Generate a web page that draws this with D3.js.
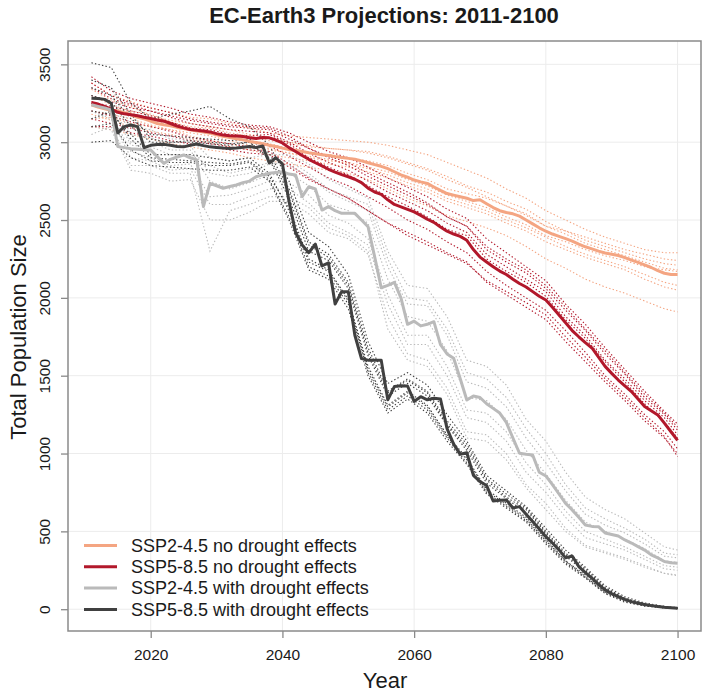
<!DOCTYPE html>
<html><head><meta charset="utf-8">
<script src="https://cdn.jsdelivr.net/npm/d3@7"></script>
<style>body{margin:0;background:#fff}svg{display:block}text{font-family:"Liberation Sans",Arial,sans-serif}</style>
</head><body><svg id="c" width="705" height="692"></svg>
<script>
const years = d3.range(2011, 2101);
const memberYears = [2011,2014,2017,2020,2023,2026,2029,2032,2035,2038,2041,2044,2047,2050,2053,2056,2059,2062,2065,2068,2071,2074,2077,2080,2083,2086,2089,2092,2095,2098,2100];
const xTicks = [2020,2040,2060,2080,2100];
const yTicks = [0,500,1000,1500,2000,2500,3000,3500];
const seriesNames = ["SSP2-4.5 no drought effects","SSP5-8.5 no drought effects","SSP2-4.5 with drought effects","SSP5-8.5 with drought effects"];
const seriesColors = ["#F4A582","#B2182B","#BABABA","#404040"];

const meanSSP245 = [3240,3225,3215,3205,3200,3190,3175,3160,3150,3135,3120,3112,3105,3095,3088,3080,3072,3066,3058,3048,3038,3030,3022,3015,3005,2998,2990,2980,2972,2962,2952,2948,2940,2932,2926,2920,2915,2908,2902,2896,2890,2880,2868,2856,2845,2830,2810,2790,2775,2757,2745,2735,2712,2690,2670,2660,2650,2640,2625,2630,2605,2580,2560,2548,2540,2525,2500,2475,2450,2428,2410,2395,2380,2365,2345,2328,2315,2300,2288,2280,2272,2258,2242,2228,2212,2195,2175,2158,2150,2150];
const meanSSP585 = [3255,3245,3230,3213,3192,3182,3176,3170,3160,3152,3142,3135,3120,3104,3092,3082,3076,3072,3066,3055,3046,3042,3040,3036,3028,3024,3030,3028,3014,2995,2965,2940,2915,2890,2868,2848,2826,2808,2792,2778,2762,2740,2705,2680,2665,2630,2600,2585,2568,2552,2530,2505,2485,2455,2428,2410,2395,2370,2310,2262,2230,2200,2172,2150,2120,2092,2070,2040,2010,1986,1940,1890,1840,1790,1750,1712,1678,1620,1560,1515,1472,1435,1398,1350,1302,1275,1248,1195,1140,1085];
const meanSSP245D = [3240,3230,3220,3207,2972,2965,2958,2955,2952,2950,2907,2864,2890,2905,2918,2900,2886,2586,2736,2720,2704,2715,2725,2740,2750,2778,2790,2800,2805,2810,2795,2789,2650,2714,2700,2564,2586,2560,2543,2543,2543,2500,2457,2265,2065,2080,2100,2000,1830,1850,1820,1830,1847,1700,1640,1612,1480,1344,1370,1360,1320,1290,1260,1200,1100,1002,995,991,880,856,800,740,680,638,590,541,532,530,490,480,470,445,425,402,380,349,330,306,298,295];
const meanSSP585D = [3282,3280,3275,3250,3060,3100,3110,3100,2965,2980,2985,2986,2980,2972,2970,2980,2988,2978,2970,2966,2962,2960,2962,2968,2972,2965,2975,2866,2900,2860,2620,2420,2340,2290,2345,2205,2225,1960,2040,2040,1760,1610,1600,1600,1600,1345,1430,1435,1434,1335,1365,1345,1355,1350,1160,1060,995,1005,860,820,795,695,700,702,650,659,610,563,515,466,425,381,330,342,274,235,199,160,124,100,81,63,49,38,30,23,17,12,9,6];

const membersSSP245 = [
[3380,3300,3260,3220,3190,3160,3150,3120,3090,3060,3040,3030,3020,3010,3000,2980,2950,2920,2870,2820,2770,2700,2640,2560,2500,2440,2390,2350,2310,2290,2290],
[3150,3160,3120,3100,3080,3040,3010,2990,2960,2950,2930,2900,2880,2870,2840,2810,2760,2720,2660,2620,2580,2520,2470,2400,2360,2310,2270,2240,2200,2180,2170],
[3300,3240,3200,3180,3130,3100,3090,3060,3040,3010,2990,2970,2960,2950,2940,2910,2870,2830,2780,2720,2680,2620,2570,2490,2430,2370,2330,2290,2250,2220,2210],
[3100,3080,3050,3020,2990,2970,2950,2930,2900,2880,2860,2840,2820,2800,2760,2700,2640,2590,2530,2490,2450,2400,2330,2250,2190,2120,2070,2030,1980,1930,1910],
[3250,3220,3190,3140,3120,3090,3060,3030,3010,2990,2960,2930,2920,2900,2880,2850,2800,2760,2700,2670,2640,2590,2540,2460,2410,2350,2310,2270,2230,2190,2180],
[3200,3180,3150,3110,3080,3060,3040,3010,2980,2960,2930,2910,2890,2860,2830,2790,2740,2700,2640,2600,2560,2500,2450,2390,2330,2280,2240,2200,2150,2100,2080],
[3340,3270,3230,3170,3140,3120,3100,3080,3050,3030,3000,2980,2960,2950,2930,2900,2860,2820,2760,2710,2650,2590,2530,2460,2430,2390,2350,2310,2280,2250,2240],
[3180,3140,3100,3070,3050,3020,3000,2970,2950,2920,2900,2880,2860,2840,2810,2770,2720,2680,2620,2580,2540,2480,2430,2360,2310,2260,2220,2180,2120,2070,2050]];
const membersSSP585 = [
[3420,3330,3280,3250,3220,3180,3160,3130,3110,3100,3060,3000,2940,2900,2840,2770,2710,2650,2570,2510,2380,2290,2200,2110,1960,1830,1680,1540,1400,1270,1190],
[3150,3120,3090,3060,3040,3010,2990,2970,2950,2940,2860,2770,2700,2640,2560,2480,2420,2360,2290,2230,2100,2020,1940,1860,1720,1590,1460,1340,1210,1100,1000],
[3300,3260,3220,3200,3160,3120,3100,3080,3070,3060,3000,2930,2870,2820,2750,2680,2620,2560,2480,2420,2280,2200,2120,2040,1880,1760,1600,1480,1340,1230,1120],
[3200,3170,3130,3100,3070,3030,3010,2990,2970,2980,2910,2840,2770,2720,2650,2580,2500,2440,2360,2290,2170,2080,2000,1920,1790,1650,1500,1380,1250,1140,1030],
[3350,3280,3240,3200,3170,3140,3120,3100,3090,3080,3020,2960,2910,2870,2800,2740,2680,2610,2520,2460,2310,2230,2160,2060,1920,1790,1640,1510,1360,1250,1150],
[3100,3100,3060,3040,3010,2990,2970,2950,2930,2920,2840,2760,2700,2640,2560,2480,2400,2340,2280,2220,2110,2040,1970,1890,1750,1620,1480,1360,1230,1110,980],
[3260,3230,3200,3170,3130,3090,3080,3050,3040,3050,2990,2900,2840,2790,2720,2650,2590,2520,2440,2400,2250,2170,2100,2010,1860,1740,1590,1460,1320,1200,1100],
[3380,3300,3250,3220,3190,3150,3130,3110,3100,3090,3040,2960,2900,2850,2780,2720,2660,2600,2520,2460,2330,2250,2180,2080,1940,1800,1660,1520,1380,1260,1170]];
const membersSSP245D = [
[3400,3350,3100,3080,3020,3020,2900,2880,2900,2920,2920,2860,2760,2700,2640,2300,2080,2060,1880,1600,1560,1440,1220,1080,880,720,640,580,490,400,380],
[3100,3080,2820,2800,2750,2760,2500,2500,2550,2620,2620,2540,2420,2380,2280,1880,1640,1600,1420,1140,1120,1000,800,680,520,410,370,330,280,230,220],
[3300,3260,3000,3000,2950,2950,2750,2700,2740,2790,2800,2720,2600,2560,2480,2120,1880,1850,1660,1360,1340,1220,1020,870,700,560,500,450,390,310,300],
[3200,3150,2900,2880,2820,2830,2600,2600,2650,2700,2700,2610,2480,2420,2340,1960,1700,1700,1500,1230,1200,1080,880,750,590,460,420,380,320,260,250],
[3250,3230,2980,2970,2920,2920,2850,2800,2830,2870,2850,2780,2680,2620,2560,2200,1960,1950,1760,1460,1420,1300,1100,940,760,610,540,490,420,340,330],
[3050,3100,2850,2850,2800,2800,2300,2560,2600,2650,2650,2580,2450,2400,2300,1800,1600,1560,1380,1100,1080,960,780,640,500,400,360,320,270,230,215],
[3350,3300,3050,3030,2980,2980,2800,2780,2800,2860,2880,2800,2700,2650,2600,2250,2000,1980,1800,1520,1480,1360,1160,1000,800,650,580,520,450,360,350],
[3150,3180,2940,2900,2850,2860,2650,2660,2700,2750,2740,2660,2530,2480,2380,2020,1760,1760,1560,1280,1260,1140,940,800,630,500,450,400,340,280,270]];
const membersSSP585D = [
[3510,3480,3250,3150,3180,3200,3230,3150,3100,2980,2750,2420,2330,2150,1720,1450,1520,1440,1250,1080,860,760,660,520,380,270,150,80,40,18,10],
[3000,3010,2900,2850,2840,2830,2820,2820,2840,2750,2500,2180,2120,1930,1500,1260,1350,1260,1080,930,740,650,560,420,290,200,100,45,20,8,3],
[3350,3300,3150,3050,3040,3030,3020,3010,3020,2930,2700,2360,2280,2100,1680,1400,1480,1400,1210,1060,840,740,650,500,360,260,140,70,35,15,8],
[3200,3180,3050,2920,2920,2920,2900,2880,2900,2800,2560,2230,2170,1980,1540,1300,1390,1300,1110,960,760,670,580,440,310,210,110,55,25,10,5],
[3300,3260,3100,3000,3000,3000,2990,2980,3000,2890,2640,2300,2240,2060,1630,1370,1450,1370,1180,1020,810,710,620,480,340,240,130,65,32,13,7],
[3150,3200,3020,2900,2890,2880,2870,2860,2880,2780,2580,2250,2180,1990,1560,1310,1400,1310,1120,970,770,680,590,450,310,220,115,58,28,11,5],
[3400,3350,3180,3020,3000,3010,3000,2990,3000,2900,2680,2340,2260,2080,1650,1390,1470,1390,1190,1040,830,720,640,490,350,250,135,68,33,14,7],
[3100,3120,2950,2880,2870,2870,2850,2850,2870,2760,2520,2200,2140,1960,1520,1280,1370,1280,1100,940,750,660,570,430,300,205,105,50,22,9,4]];

const means = [meanSSP245, meanSSP585, meanSSP245D, meanSSP585D];
const members = [membersSSP245, membersSSP585, membersSSP245D, membersSSP585D];

const svg = d3.select("#c");
const L = 68, R = 701, T = 41, B = 631;
const x = d3.scaleLinear().domain([2007.44, 2103.56]).range([L, R]);
const y = d3.scaleLinear().domain([-140, 3650]).range([B, T]);

// grid
const g = svg.append("g");
g.selectAll(".gx").data(xTicks).join("line").attr("x1", d=>x(d)).attr("x2", d=>x(d)).attr("y1", T).attr("y2", B).attr("stroke", "#ececec").attr("stroke-width", 1);
g.selectAll(".gy").data(yTicks).join("line").attr("y1", d=>y(d)).attr("y2", d=>y(d)).attr("x1", L).attr("x2", R).attr("stroke", "#ececec").attr("stroke-width", 1);

const lineM = d3.line().x((d,i)=>x(memberYears[i])).y(d=>y(d));
const lineA = d3.line().x((d,i)=>x(years[i])).y(d=>y(d));

const plot = svg.append("g");
members.forEach((set, k) => {
  set.forEach(arr => {
    plot.append("path").attr("d", lineM(arr)).attr("fill", "none").attr("stroke", seriesColors[k]).attr("stroke-width", 1.1).attr("stroke-dasharray", "1.4,2.2");
  });
});
means.forEach((arr, k) => {
  plot.append("path").attr("d", lineA(arr)).attr("fill", "none").attr("stroke", seriesColors[k]).attr("stroke-width", 3).attr("stroke-linejoin", "round");
});

// box
svg.append("rect").attr("x", L).attr("y", T).attr("width", R-L).attr("height", B-T).attr("fill", "none").attr("stroke", "#8a8a8a").attr("stroke-width", 1.5);

// axes
const ax = svg.append("g").attr("transform", `translate(0,${B})`).call(d3.axisBottom(x).tickValues(xTicks).tickSize(7).tickPadding(11).tickFormat(d3.format("d")));
const ay = svg.append("g").attr("transform", `translate(${L},0)`).call(d3.axisLeft(y).tickValues(yTicks).tickSize(7).tickFormat(d3.format("d")));
[ax, ay].forEach(a => {
  a.select(".domain").remove();
  a.selectAll(".tick line").attr("stroke", "#8a8a8a").attr("stroke-width", 1.3);
  a.selectAll(".tick text").attr("fill", "#1a1a1a").style("font-size", "15.5px").style("font-family", '"Liberation Sans",Arial,sans-serif');
});
ay.selectAll(".tick text").attr("transform", "rotate(-90)").attr("x", 0).attr("y", -18).attr("dy", 0).attr("text-anchor", "middle");

// titles
svg.append("text").attr("x", 384).attr("y", 23).attr("text-anchor", "middle").style("font-size", "22px").style("font-weight", "bold").attr("fill", "#1a1a1a").text("EC-Earth3 Projections: 2011-2100");
svg.append("text").attr("x", 385).attr("y", 688).attr("text-anchor", "middle").style("font-size", "22px").attr("fill", "#1a1a1a").text("Year");
svg.append("text").attr("transform", "translate(26,337) rotate(-90)").attr("text-anchor", "middle").style("font-size", "22px").attr("fill", "#1a1a1a").text("Total Population Size");

// legend
const lg = svg.append("g");
seriesNames.forEach((name, i) => {
  const yy = 545.5 + i * 21.3;
  lg.append("line").attr("x1", 84).attr("x2", 117).attr("y1", yy).attr("y2", yy).attr("stroke", seriesColors[i]).attr("stroke-width", 3);
  lg.append("text").attr("x", 131).attr("y", yy).attr("dy", "0.35em").style("font-size", "18px").attr("fill", "#1a1a1a").text(name);
});
</script></body></html>
